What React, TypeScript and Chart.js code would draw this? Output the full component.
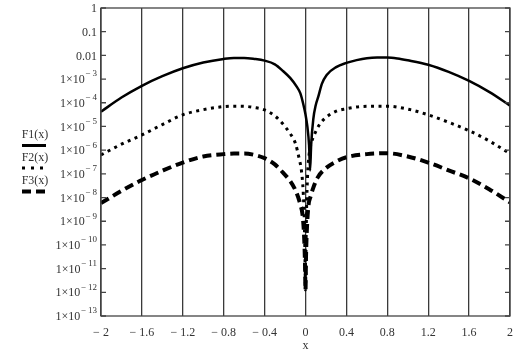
import { useEffect, useRef } from 'react';
import { Chart, registerables } from 'chart.js';

Chart.register(...registerables);

// ---- data ----
const f1X = [-2.0, -1.8, -1.6, -1.4, -1.2, -1.0, -0.8, -0.7, -0.6, -0.5, -0.4, -0.3, -0.22, -0.15, -0.086, -0.05, -0.022, 0.0, 0.018, 0.035, 0.045, 0.055, 0.076, 0.1, 0.125, 0.16, 0.207, 0.3, 0.4, 0.5, 0.6, 0.7, 0.8, 0.9, 1.0, 1.2, 1.4, 1.6, 1.8, 2.0];
const f1Y = [4.2e-5, 1.66e-4, 5.2e-4, 1.32e-3, 2.85e-3, 5.0e-3, 7.1e-3, 7.8e-3, 7.8e-3, 7.1e-3, 6.0e-3, 4.2e-3, 2.2e-3, 1.12e-3, 4.8e-4, 2.5e-4, 8.9e-5, 3.2e-5, 1.0e-5, 1.6e-6, 1.4e-7, 1.6e-6, 2.0e-5, 7.9e-5, 1.8e-4, 6.3e-4, 1.5e-3, 3.2e-3, 4.8e-3, 6.3e-3, 7.6e-3, 8.1e-3, 8.1e-3, 7.4e-3, 6.2e-3, 4.0e-3, 2.0e-3, 8.3e-4, 2.8e-4, 7.6e-5];

const f2X = [-2.0, -1.8, -1.6, -1.4, -1.2, -1.0, -0.8, -0.7, -0.6, -0.5, -0.4, -0.3, -0.22, -0.15, -0.1, -0.06, -0.04, -0.022, -0.012, -0.005, 0.0, 0.004, 0.01, 0.02, 0.035, 0.06, 0.093, 0.14, 0.2, 0.3, 0.4, 0.5, 0.6, 0.8, 1.0, 1.2, 1.4, 1.6, 1.8, 2.0];
const f2Y = [6.3e-7, 1.78e-6, 4.4e-6, 1.2e-5, 3.1e-5, 5.1e-5, 6.9e-5, 7.2e-5, 7.1e-5, 6.3e-5, 5.0e-5, 2.8e-5, 1.26e-5, 5.0e-6, 2.0e-6, 4.0e-7, 1.4e-7, 1.6e-8, 1.0e-9, 3.2e-11, 1.26e-12, 3.2e-11, 2.5e-9, 8.0e-8, 6.3e-7, 2.2e-6, 5.2e-6, 1.26e-5, 2.4e-5, 4.4e-5, 5.6e-5, 6.6e-5, 7.1e-5, 7.2e-5, 5.4e-5, 3.1e-5, 1.5e-5, 6.6e-6, 2.4e-6, 7.1e-7];

const f3X = [-2.0, -1.8, -1.6, -1.4, -1.2, -1.0, -0.8, -0.7, -0.6, -0.5, -0.4, -0.3, -0.22, -0.15, -0.1, -0.05, -0.027, -0.012, -0.005, 0.0, 0.005, 0.015, 0.03, 0.05, 0.075, 0.12, 0.19, 0.3, 0.4, 0.6, 0.8, 1.0, 1.2, 1.4, 1.6, 1.8, 2.0];
const f3Y = [5.8e-9, 1.9e-8, 5.5e-8, 1.35e-7, 3.0e-7, 5.4e-7, 6.8e-7, 7.2e-7, 7.2e-7, 6.3e-7, 4.6e-7, 2.5e-7, 1.12e-7, 5.0e-8, 2.1e-8, 5.0e-9, 1.6e-9, 1.6e-10, 1.6e-11, 1.26e-12, 3.2e-11, 6.3e-10, 5.0e-9, 1.12e-8, 2.5e-8, 7.1e-8, 1.6e-7, 3.3e-7, 5.0e-7, 6.8e-7, 7.4e-7, 5.4e-7, 3.0e-7, 1.4e-7, 6.5e-8, 2.2e-8, 6.3e-9];

const seriesLabels = ['F1(x)', 'F2(x)', 'F3(x)'];

const xTicks = [-2, -1.6, -1.2, -0.8, -0.4, 0, 0.4, 0.8, 1.2, 1.6, 2];
const xTickLabels = ['\u2212 2', '\u2212 1.6', '\u2212 1.2', '\u2212 0.8', '\u2212 0.4', '0', '0.4', '0.8', '1.2', '1.6', '2'];
const xTitle = 'x';

const yTicks = [1, 0.1, 0.01, 1e-3, 1e-4, 1e-5, 1e-6, 1e-7, 1e-8, 1e-9, 1e-10, 1e-11, 1e-12, 1e-13];
const yTickLabels = ['1', '0.1', '0.01', '1\u00d710^\u2212 3', '1\u00d710^\u2212 4', '1\u00d710^\u2212 5', '1\u00d710^\u2212 6', '1\u00d710^\u2212 7', '1\u00d710^\u2212 8', '1\u00d710^\u2212 9', '1\u00d710^\u2212 10', '1\u00d710^\u2212 11', '1\u00d710^\u2212 12', '1\u00d710^\u2212 13'];

const FONT = "'Liberation Serif', 'Times New Roman', serif";
const TEXT = '#333333';

export default function App() {
  const ref = useRef<HTMLCanvasElement>(null);

  useEffect(() => {
    if (!ref.current) return;
    const toPts = (xs: number[], ys: number[]) => xs.map((x, i) => ({ x, y: ys[i] }));

    const decor = {
      id: 'decor',
      afterDraw(chart: any) {
        const ctx = chart.ctx as CanvasRenderingContext2D;
        const { left, right, top, bottom } = chart.chartArea;
        const ys = chart.scales.y;
        ctx.save();
        // frame
        ctx.strokeStyle = '#444';
        ctx.lineWidth = 1.3;
        ctx.strokeRect(left, top, right - left, bottom - top);
        // inward y tick marks + labels
        ctx.fillStyle = TEXT;
        ctx.textBaseline = 'middle';
        yTicks.forEach((v, i) => {
          const py = ys.getPixelForValue(v);
          ctx.beginPath();
          ctx.moveTo(left, py);
          ctx.lineTo(left + 5, py);
          ctx.moveTo(right, py);
          ctx.lineTo(right - 5, py);
          ctx.stroke();
          const lab = yTickLabels[i];
          const [base, sup] = lab.split('^');
          const xr = left - 4;
          if (sup) {
            ctx.font = `9px ${FONT}`;
            const sw = ctx.measureText(sup).width;
            ctx.textAlign = 'right';
            ctx.fillText(sup, xr, py - 5);
            ctx.font = `12px ${FONT}`;
            ctx.fillText(base, xr - sw - 0.5, py + 1);
          } else {
            ctx.font = `12px ${FONT}`;
            ctx.textAlign = 'right';
            ctx.fillText(base, xr, py + 1);
          }
        });
        // x title
        ctx.font = `12px ${FONT}`;
        ctx.textAlign = 'center';
        ctx.fillText(xTitle, (left + right) / 2, 346);
        // legend
        ctx.font = `12px ${FONT}`;
        ctx.textAlign = 'center';
        const lx = 35;
        ctx.fillText(seriesLabels[0], lx, 135);
        ctx.fillText(seriesLabels[1], lx, 158);
        ctx.fillText(seriesLabels[2], lx, 181);
        ctx.fillStyle = '#000';
        ctx.strokeStyle = '#000';
        ctx.lineWidth = 3;
        ctx.beginPath();
        ctx.moveTo(22, 145.5);
        ctx.lineTo(46, 145.5);
        ctx.stroke();
        [22, 31, 40].forEach((dx) => ctx.fillRect(dx, 166.5, 3, 3));
        ctx.fillRect(22, 189.5, 9, 4);
        ctx.fillRect(36, 189.5, 9, 4);
        ctx.restore();
      },
    };

    const chart = new Chart(ref.current, {
      type: 'scatter',
      data: {
        datasets: [
          {
            label: seriesLabels[0],
            data: toPts(f1X, f1Y),
            showLine: true,
            borderColor: '#000',
            borderWidth: 2.5,
            pointRadius: 0,
            cubicInterpolationMode: 'monotone',
          },
          {
            label: seriesLabels[1],
            data: toPts(f2X, f2Y),
            showLine: true,
            borderColor: '#000',
            borderWidth: 3,
            borderDash: [3, 4.5],
            pointRadius: 0,
            cubicInterpolationMode: 'monotone',
          },
          {
            label: seriesLabels[2],
            data: toPts(f3X, f3Y),
            showLine: true,
            borderColor: '#000',
            borderWidth: 4,
            borderDash: [9, 5],
            pointRadius: 0,
            cubicInterpolationMode: 'monotone',
          },
        ],
      } as any,
      options: {
        animation: false,
        responsive: false,
        layout: { padding: { left: 0, right: 22, top: 8, bottom: 0 } },
        plugins: { legend: { display: false }, tooltip: { enabled: false } },
        scales: {
          x: {
            type: 'linear',
            min: -2,
            max: 2,
            afterBuildTicks: (s: any) => {
              s.ticks = xTicks.map((v) => ({ value: v }));
            },
            afterFit: (s: any) => {
              s.height = 40;
            },
            ticks: {
              callback: (_v: any, i: number) => xTickLabels[i],
              padding: 10,
              font: { size: 12, family: FONT },
              color: TEXT,
              autoSkip: false,
              maxRotation: 0,
            },
            grid: { color: '#3a3a3a', lineWidth: 1.3, drawTicks: false },
            border: { display: false },
          },
          y: {
            type: 'logarithmic',
            min: 1e-13,
            max: 1,
            afterBuildTicks: (s: any) => {
              s.ticks = yTicks.map((v) => ({ value: v }));
            },
            afterFit: (s: any) => {
              s.width = 101;
            },
            ticks: { display: false },
            grid: { display: false, drawTicks: false },
            border: { display: false },
          },
        },
      } as any,
      plugins: [decor],
    });
    return () => chart.destroy();
  }, []);

  return (
    <div style={{ position: 'fixed', left: 0, top: 0, width: 532, height: 356, background: '#fff' }}>
      <canvas ref={ref} width={532} height={356} />
    </div>
  );
}
